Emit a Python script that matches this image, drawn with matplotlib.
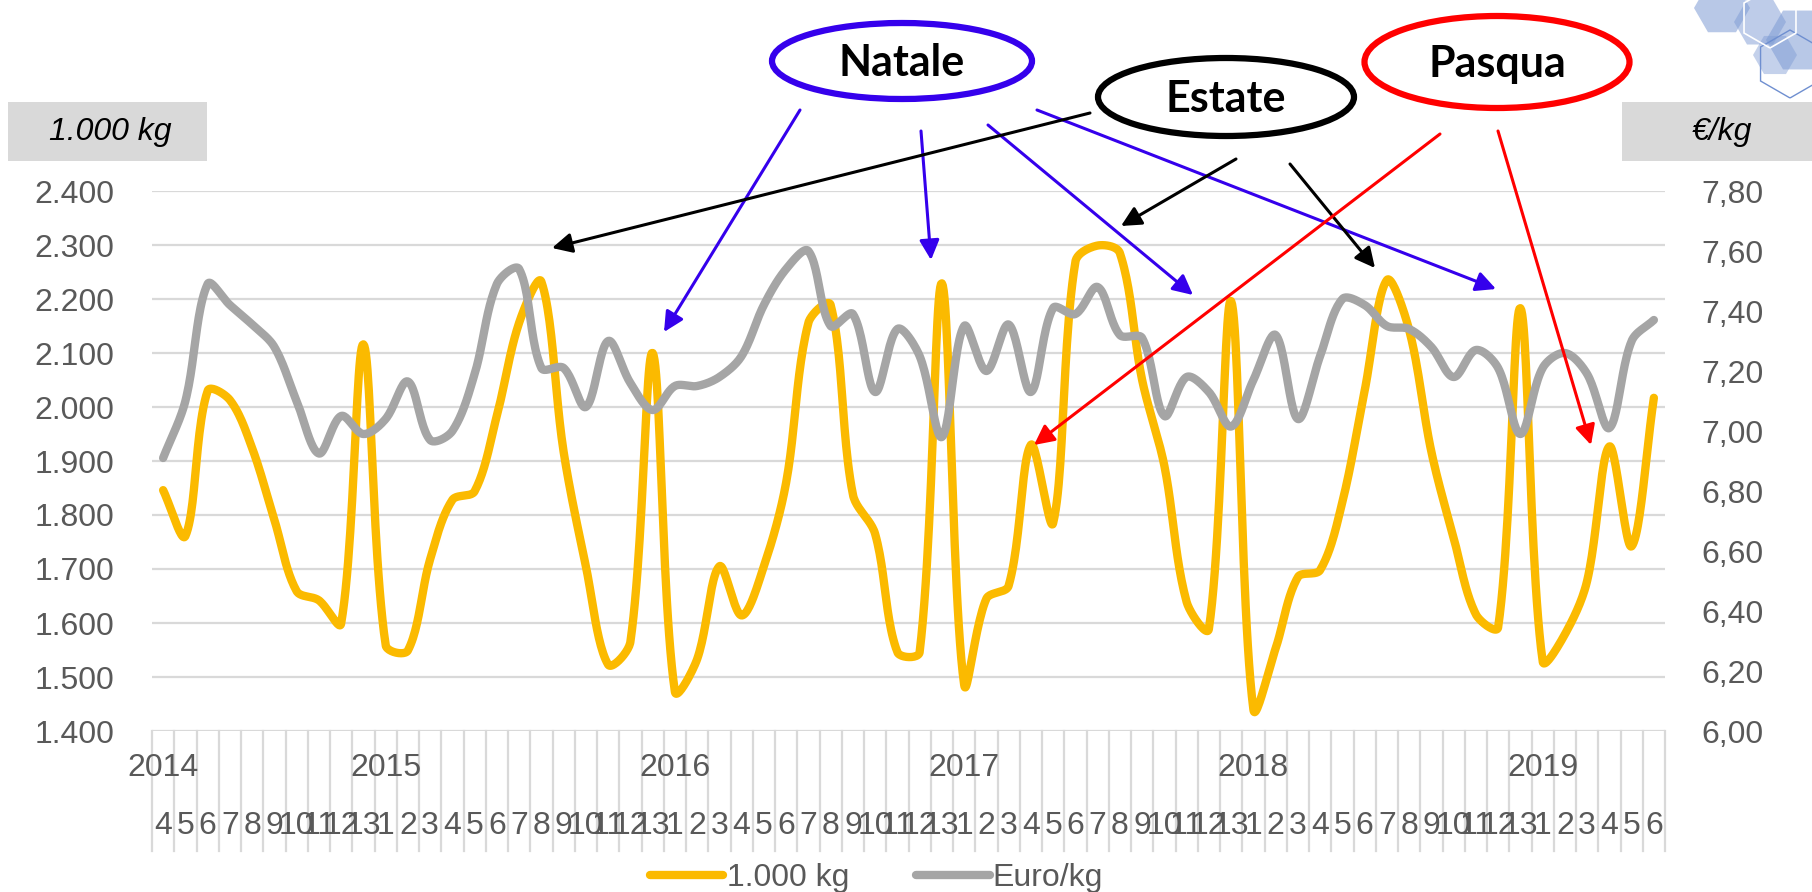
import numpy as np
import matplotlib
matplotlib.use("Agg")
import matplotlib.pyplot as plt
from matplotlib import font_manager
from matplotlib.patches import Ellipse, RegularPolygon, Rectangle
from matplotlib.lines import Line2D

# periods (4-week periods, 13 per year)
years = [2014, 2015, 2016, 2017, 2018, 2019]
first_period = [4, 1, 1, 1, 1, 1]
last_period = [13, 13, 13, 13, 13, 6]

# volumes, 1.000 kg
volume = [1846, 1761, 2030, 2013, 1924, 1791, 1659, 1642, 1599, 2116,
          1559, 1549, 1718, 1828, 1844, 1984, 2156, 2232, 1917, 1705,
          1523, 1565, 2100, 1473, 1533, 1705, 1614, 1705, 1860, 2156,
          2189, 1838, 1765, 1546, 1546, 2229, 1486, 1645, 1669, 1930,
          1785, 2269, 2299, 2285, 2050, 1891, 1639, 1589, 2196, 1440,
          1553, 1685, 1698, 1824, 2030, 2235, 2143, 1917, 1758, 1616,
          1592, 2183, 1529, 1579, 1678, 1927, 1742, 2017]

# price, Euro/kg
price = [6.91, 7.10, 7.49, 7.42, 7.355, 7.28, 7.10, 6.925, 7.05, 6.99,
         7.04, 7.165, 6.97, 7.00, 7.19, 7.49, 7.54, 7.21, 7.21, 7.08,
         7.30, 7.16, 7.07, 7.15, 7.15, 7.18, 7.25, 7.42, 7.54, 7.60,
         7.35, 7.39, 7.13, 7.34, 7.25, 6.98, 7.35, 7.20, 7.355, 7.13,
         7.41, 7.39, 7.48, 7.32, 7.31, 7.05, 7.18, 7.13, 7.015, 7.17,
         7.32, 7.04, 7.25, 7.44, 7.42, 7.35, 7.34, 7.28, 7.18, 7.27,
         7.21, 6.99, 7.21, 7.26, 7.19, 7.01, 7.30, 7.37]

period_labels = []
year_labels = []
for y, a, b in zip(years, first_period, last_period):
    for p in range(a, b + 1):
        period_labels.append(str(p))
        year_labels.append(str(y) if p == a else "")
x = np.arange(len(period_labels))


def smooth(xs, ys, kx, ky, steps=24):
    # excel-like smoothed line: bezier with chord-length scaled tangents
    pts = np.column_stack([xs, ys]).astype(float)
    scale = np.array([kx, ky])
    n = len(pts)
    t = np.linspace(0, 1, steps, endpoint=False)[:, None]
    out = []
    for i in range(n - 1):
        p0 = pts[max(i - 1, 0)]
        p1 = pts[i]
        p2 = pts[i + 1]
        p3 = pts[min(i + 2, n - 1)]
        d01 = np.hypot(*((p1 - p0) * scale))
        d12 = np.hypot(*((p2 - p1) * scale))
        d23 = np.hypot(*((p3 - p2) * scale))
        c1 = p1 + (p2 - p0) * d12 / (d01 + d12) / 3
        c2 = p2 - (p3 - p1) * d12 / (d12 + d23) / 3
        seg = ((1 - t) ** 3) * p1 + 3 * ((1 - t) ** 2) * t * c1 \
            + 3 * (1 - t) * t ** 2 * c2 + t ** 3 * p2
        out.append(seg)
    out.append(pts[-1:])
    out = np.vstack(out)
    return out[:, 0], out[:, 1]


names = {f.name for f in font_manager.fontManager.ttflist}
narrow = "Liberation Sans Narrow" if "Liberation Sans Narrow" in names else "Liberation Sans"
plt.rcParams["font.family"] = "Liberation Sans"

W, H = 1812, 892
fig = plt.figure(figsize=(W / 100, H / 100), dpi=100)
left, right, top, bottom = 152, 1665, 191, 731
ax = fig.add_axes([left / W, 1 - bottom / H, (right - left) / W, (bottom - top) / H])
ax2 = ax.twinx()

yellow = "#FBBA00"
grey = "#A5A5A5"
tick_col = "#595959"

px_x = (right - left) / len(x)
sx, sy = smooth(x, volume, px_x, (bottom - top) / 1000)
ax.plot(sx, sy, color=yellow, lw=6, solid_capstyle="round", label="1.000 kg")
sx2, sy2 = smooth(x, price, px_x, (bottom - top) / 1.8)
ax2.plot(sx2, sy2, color=grey, lw=6, solid_capstyle="round", label="Euro/kg")

ax.set_xlim(-0.5, len(x) - 0.5)
ax.set_ylim(1400, 2400)
ax.set_yticks(range(1400, 2401, 100))
ax.set_yticklabels([f"{v / 1000:.3f}" for v in range(1400, 2401, 100)])
ax2.set_ylim(6.0, 7.8)
ax2.set_yticks(np.arange(6.0, 7.81, 0.2))
ax2.set_yticklabels([f"{v:.2f}".replace(".", ",") for v in np.arange(6.0, 7.81, 0.2)])

ax.yaxis.grid(True, color="#D9D9D9", lw=1.6)
ax.set_axisbelow(True)
ax.set_xticks([])
for a in (ax, ax2):
    for s in a.spines.values():
        s.set_visible(False)
ax.tick_params(axis="y", length=0, pad=27, labelsize=23, labelcolor=tick_col)
ax2.tick_params(axis="y", length=0, pad=26, labelsize=23, labelcolor=tick_col)

# category axis: separators, periods and years
trans = ax.get_xaxis_transform()
sep_low = -(851 - bottom) / (bottom - top)
for b in np.arange(-0.5, len(x), 1.0):
    ax.plot([b, b], [0, sep_low], transform=trans, color="#D9D9D9", lw=1.6, clip_on=False)
for xi, lab in zip(x, period_labels):
    ax.text(xi, -(826 - bottom) / (bottom - top), lab, transform=trans, ha="center", va="center",
            fontsize=23, color=tick_col, family=narrow)
for xi, lab in zip(x, year_labels):
    if lab:
        ax.text(xi, -(768 - bottom) / (bottom - top), lab, transform=trans, ha="center", va="center",
                fontsize=23, color=tick_col, family=narrow)

# legend
h1 = Line2D([], [], color=yellow, lw=6, solid_capstyle="round")
h2 = Line2D([], [], color=grey, lw=6, solid_capstyle="round")
fig.legend([h1, h2], ["1.000 kg", "Euro/kg"], loc="center left",
           bbox_to_anchor=(650 / W, 1 - 878 / H), ncol=2, frameon=False,
           fontsize=23, labelcolor=tick_col, handlelength=2.3, handletextpad=0.1,
           columnspacing=2.1, borderpad=0, borderaxespad=0)

# overlay in pixel coordinates for headers, bubbles and arrows
ov = fig.add_axes([0, 0, 1, 1])
ov.set_xlim(0, W)
ov.set_ylim(H, 0)
ov.axis("off")
ov.set_zorder(5)

ov.add_patch(Rectangle((8, 102), 199, 59, color="#D9D9D9", lw=0))
ov.text(110, 132, "1.000 kg", ha="center", va="center", fontsize=23, style="italic", color="black")
ov.add_patch(Rectangle((1622, 102), 200, 59, color="#D9D9D9", lw=0))
ov.text(1722, 132, "€/kg", ha="center", va="center", fontsize=23, style="italic", color="black")

# logo hexagons
for (cx, cy, r, a) in [(1722, 8, 28, 0.55), (1760, 22, 26, 0.5), (1800, 40, 34, 0.55), (1775, 55, 22, 0.45)]:
    ov.add_patch(RegularPolygon((cx, cy), 6, radius=r, orientation=np.pi / 6,
                                facecolor="#7E9BD4", alpha=a, lw=0))
ov.add_patch(RegularPolygon((1790, 64), 6, radius=34, orientation=0,
                            facecolor="none", edgecolor="#6F8FD0", lw=1))
ov.add_patch(RegularPolygon((1770, 18), 6, radius=30, orientation=0,
                            facecolor="none", edgecolor="white", lw=1.2))

blue = "#3500EC"
red = "#FF0000"
bubbles = [("Natale", 902, 61, 260, 76, blue),
           ("Estate", 1226, 97, 256, 78, "black"),
           ("Pasqua", 1497, 62, 265, 92, red)]
for txt, cx, cy, w, h, c in bubbles:
    ov.add_patch(Ellipse((cx, cy), w, h, facecolor="white", edgecolor=c, lw=4.5))
    ov.text(cx, cy + 2, txt, ha="center", va="center", fontsize=31, fontweight="bold",
            family="Lato", color="black")

arrows = [((800, 110), (664, 332), blue),
          ((921, 131), (931, 260), blue),
          ((988, 125), (1193, 295), blue),
          ((1037, 110), (1496, 289), blue),
          ((1090, 113), (552, 248), "black"),
          ((1236, 159), (1121, 226), "black"),
          ((1290, 164), (1375, 268), "black"),
          ((1440, 134), (1034, 445), red),
          ((1498, 131), (1591, 445), red)]
for tail, head, c in arrows:
    ov.annotate("", xy=head, xytext=tail,
                arrowprops=dict(arrowstyle="-|>", color=c, lw=2.2, mutation_scale=30,
                                shrinkA=0, shrinkB=0))

fig.savefig("out.png", dpi=100)
